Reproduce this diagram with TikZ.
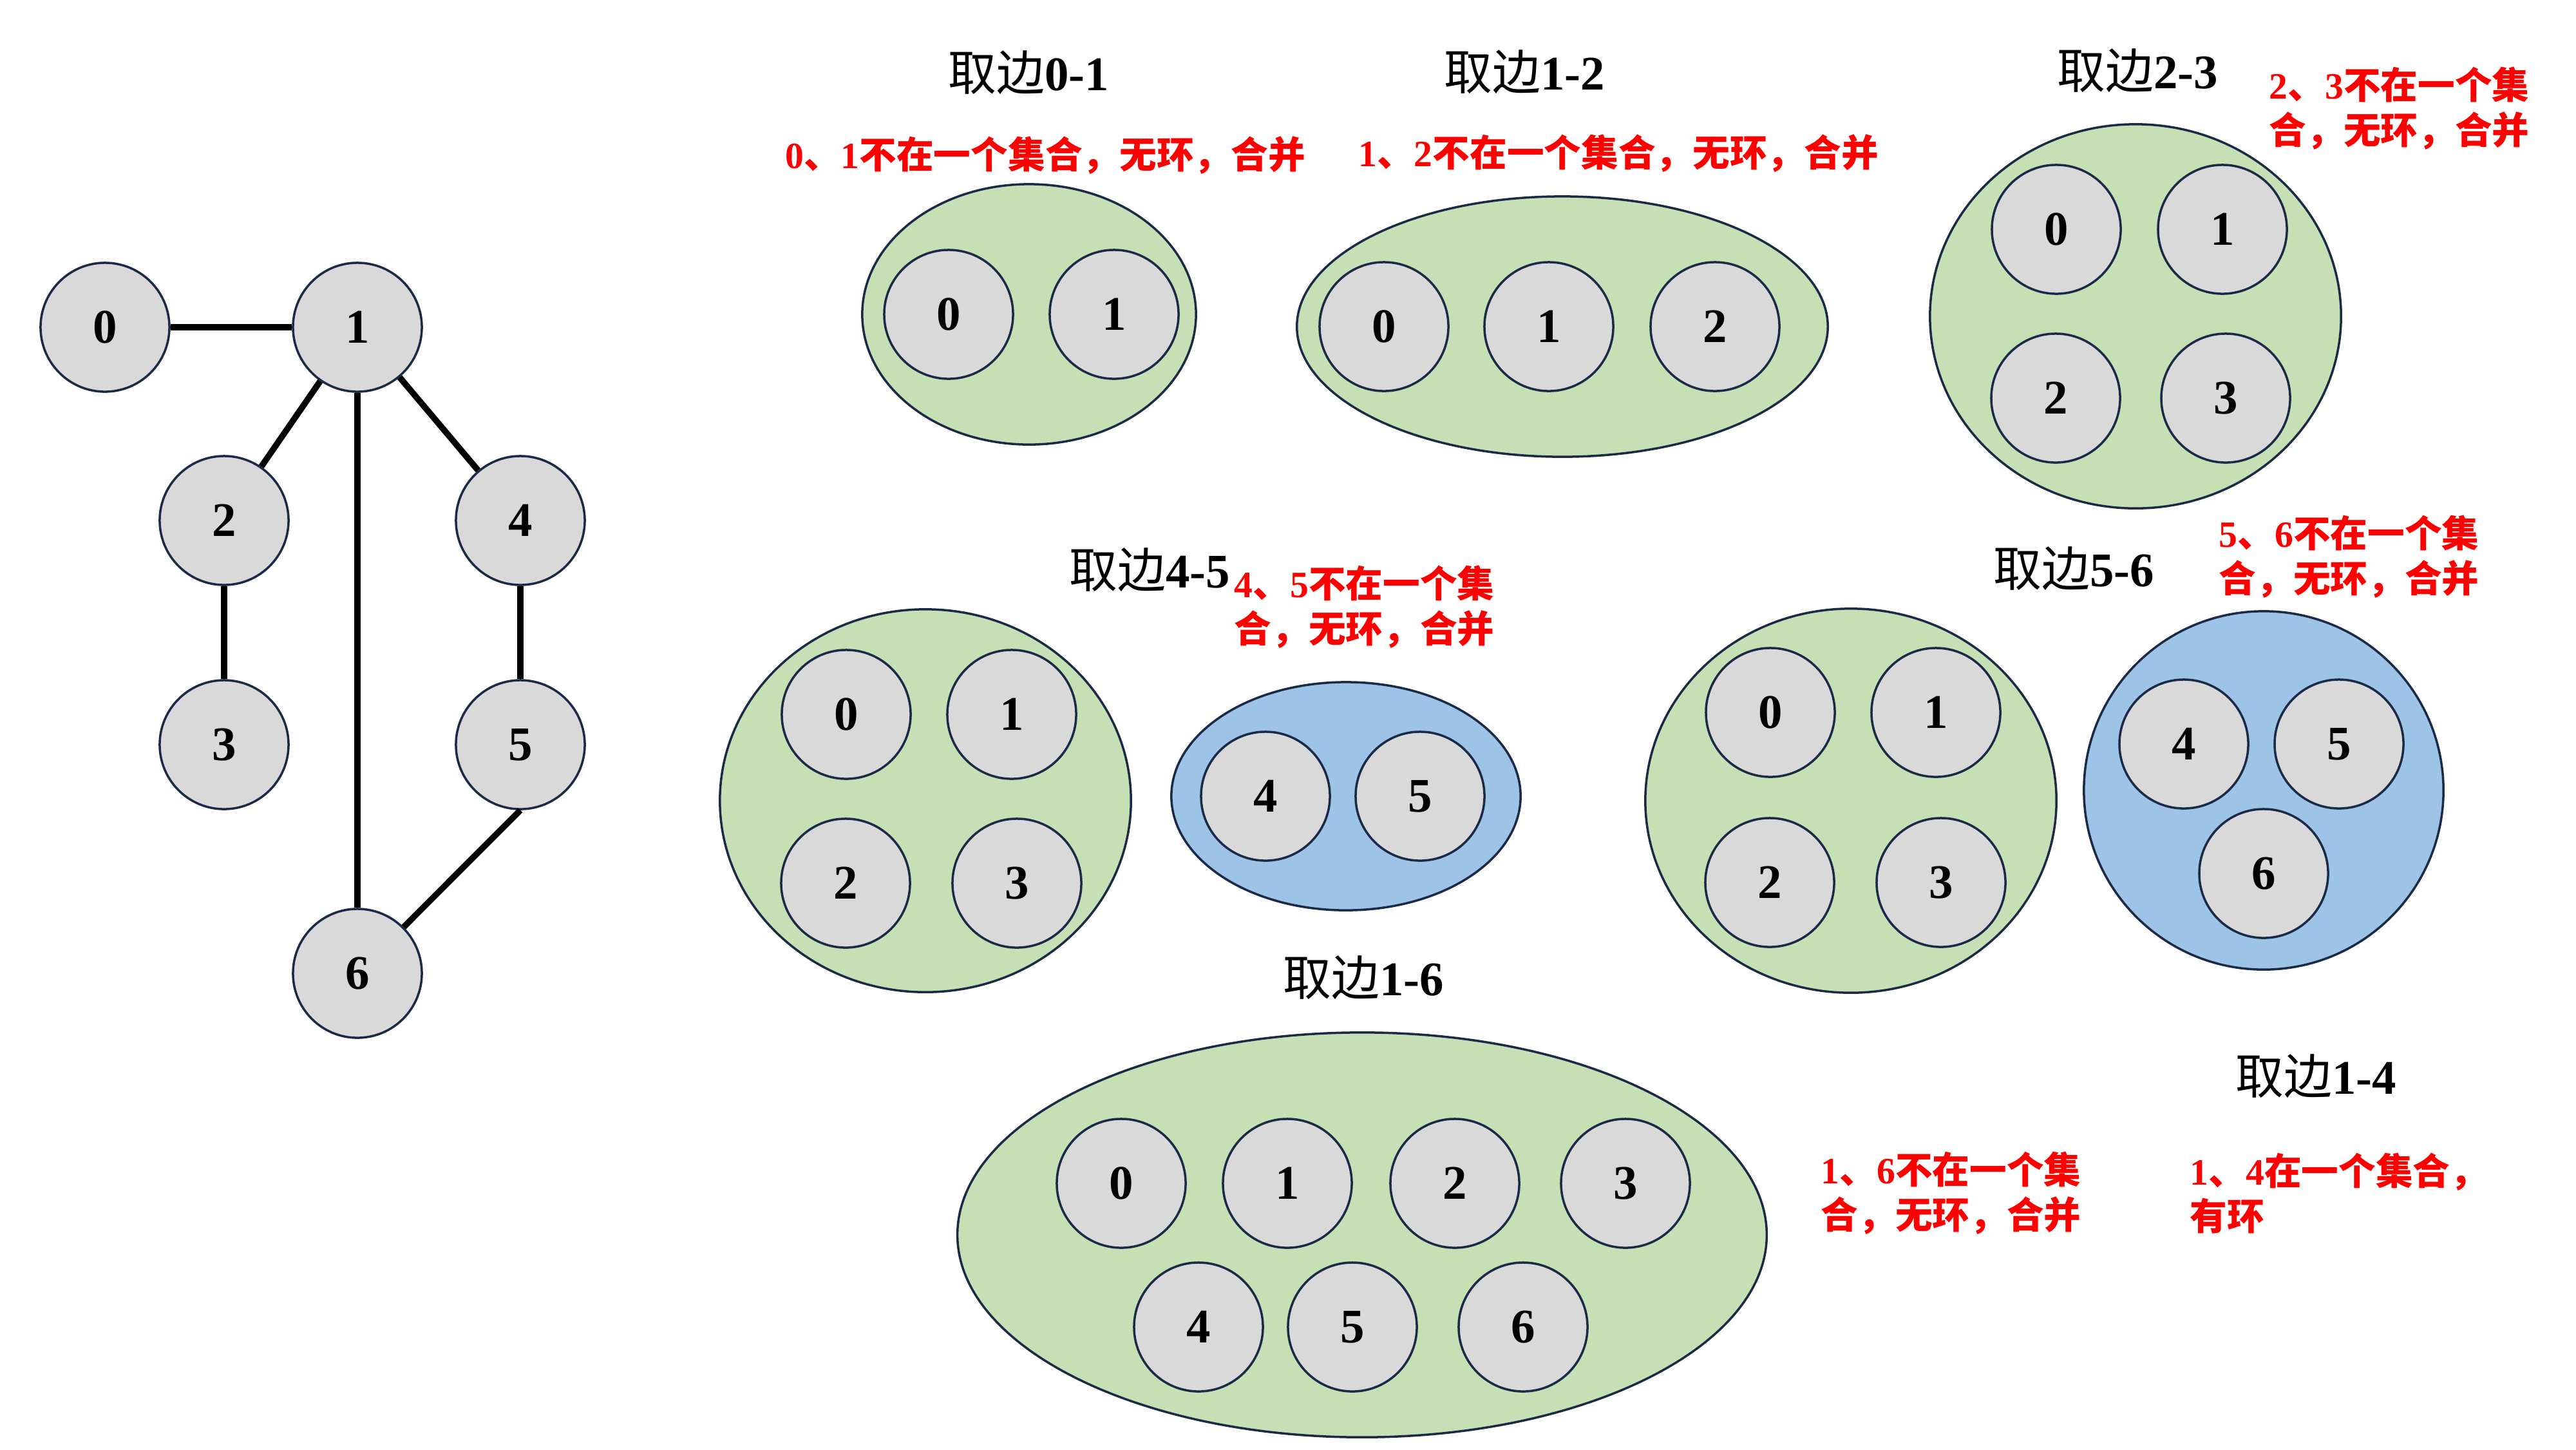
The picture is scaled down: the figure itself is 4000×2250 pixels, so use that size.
\documentclass[tikz,border=0pt]{standalone}
\usepackage{fontspec}
\setmainfont{Liberation Serif}
\newfontfamily\cjk{Noto Sans CJK SC}
\usetikzlibrary{shapes.geometric}
\definecolor{navy}{HTML}{1B2A47}
\definecolor{nodegray}{HTML}{D9D9D9}
\definecolor{setgreen}{HTML}{C5E0B4}
\definecolor{setblue}{HTML}{9DC3E6}
\definecolor{notered}{HTML}{FF0000}
\newcommand{\hz}[1]{{\cjk\mdseries #1}}
\newcommand{\hzb}[1]{{\cjk\bfseries #1}}
\tikzset{
  vtx/.style={circle, draw=navy, line width=0.035cm, fill=nodegray, minimum size=2cm, inner sep=0pt,
    font=\fontsize{21.3}{25}\selectfont\bfseries},
  gset/.style={ellipse, draw=navy, line width=0.035cm, fill=setgreen, inner sep=0pt},
  bset/.style={ellipse, draw=navy, line width=0.035cm, fill=setblue, inner sep=0pt},
  ttl/.style={inner sep=0pt, font=\fontsize{21.3}{25}\selectfont\bfseries},
  note/.style={inner sep=0pt, text=notered, align=left, font=\fontsize{16.4}{19.9}\selectfont\bfseries},
  edge/.style={line width=0.095cm, black}
}
\begin{document}
\begin{tikzpicture}[x=0.01cm, y=-0.01cm]
\fill[white] (0,0) rectangle (4000,2250);
\useasboundingbox (0,0) rectangle (4000,2250);

% ---------- original graph ----------
\node[vtx] (g0) at (163,508) {0};
\node[vtx] (g1) at (555,508) {1};
\node[vtx] (g2) at (348,808) {2};
\node[vtx] (g3) at (348,1156) {3};
\node[vtx] (g4) at (808,808) {4};
\node[vtx] (g5) at (808,1156) {5};
\node[vtx] (g6) at (555,1511) {6};
\draw[edge] (g0) -- (g1);
\draw[edge] (g1) -- (g2);
\draw[edge] (g1) -- (g6);
\draw[edge] (g1) -- (g4);
\draw[edge] (g2) -- (g3);
\draw[edge] (g4) -- (g5);
\draw[edge] (g5.south) -- (g6.45);

% ---------- edge 0-1 ----------
\node[ttl] (t01) at (1597,113) {\hz{取边}0-1};
\node[note] (n01) at (1623,241) {0\hzb{、}1\hzb{不在一个集合，无环，合并}};
\node[gset, minimum width=5.18cm, minimum height=4.04cm] (s01) at (1598,488) {};
\node[vtx] (a0) at (1473,488) {0};
\node[vtx] (a1) at (1730,488) {1};

% ---------- edge 1-2 ----------
\node[ttl] (t12) at (2367,112) {\hz{取边}1-2};
\node[note] (n12) at (2513,238) {1\hzb{、}2\hzb{不在一个集合，无环，合并}};
\node[gset, minimum width=8.24cm, minimum height=4.04cm] (s12) at (2426,507) {};
\node[vtx] (b0) at (2149,507) {0};
\node[vtx] (b1) at (2405,507) {1};
\node[vtx] (b2) at (2663,507) {2};

% ---------- edge 2-3 ----------
\node[ttl] (t23) at (3319,110) {\hz{取边}2-3};
\node[note, anchor=west] (n23) at (3523,168) {2\hzb{、}3\hzb{不在一个集}\\\hzb{合，无环，合并}};
\node[gset, minimum width=6.38cm, minimum height=5.96cm] (s23) at (3316,491) {};
\node[vtx] (c0) at (3193,356) {0};
\node[vtx] (c1) at (3451,356) {1};
\node[vtx] (c2) at (3192,618) {2};
\node[vtx] (c3) at (3456,618) {3};

% ---------- edge 4-5 ----------
\node[ttl] (t45) at (1785,885) {\hz{取边}4-5};
\node[note, anchor=west] (n45) at (1916,942) {4\hzb{、}5\hzb{不在一个集}\\\hzb{合，无环，合并}};
\node[gset, minimum width=6.38cm, minimum height=5.94cm] (s45g) at (1437,1243) {};
\node[vtx] (d0) at (1314,1109) {0};
\node[vtx] (d1) at (1571,1109) {1};
\node[vtx] (d2) at (1313,1371) {2};
\node[vtx] (d3) at (1579,1371) {3};
\node[bset, minimum width=5.42cm, minimum height=3.54cm] (s45b) at (2090,1236) {};
\node[vtx] (d4) at (1965,1236) {4};
\node[vtx] (d5) at (2205,1236) {5};

% ---------- edge 5-6 ----------
\node[ttl] (t56) at (3220,883) {\hz{取边}5-6};
\node[note, anchor=west] (n56) at (3445,864) {5\hzb{、}6\hzb{不在一个集}\\\hzb{合，无环，合并}};
\node[gset, minimum width=6.38cm, minimum height=5.96cm] (s56g) at (2874,1243) {};
\node[vtx] (e0) at (2749,1106) {0};
\node[vtx] (e1) at (3006,1106) {1};
\node[vtx] (e2) at (2748,1370) {2};
\node[vtx] (e3) at (3014,1370) {3};
\node[bset, minimum width=5.58cm, minimum height=5.56cm] (s56b) at (3515,1227) {};
\node[vtx] (e4) at (3391,1155) {4};
\node[vtx] (e5) at (3632,1155) {5};
\node[vtx] (e6) at (3515,1356) {6};

% ---------- edge 1-6 ----------
\node[ttl] (t16) at (2117,1518) {\hz{取边}1-6};
\node[note, anchor=west] (n16) at (2827,1852) {1\hzb{、}6\hzb{不在一个集}\\\hzb{合，无环，合并}};
\node[gset, minimum width=12.56cm, minimum height=6.28cm] (s16) at (2115,1917) {};
\node[vtx] (f0) at (1741,1837) {0};
\node[vtx] (f1) at (1999,1837) {1};
\node[vtx] (f2) at (2259,1837) {2};
\node[vtx] (f3) at (2524,1837) {3};
\node[vtx] (f4) at (1861,2060) {4};
\node[vtx] (f5) at (2100,2060) {5};
\node[vtx] (f6) at (2365,2060) {6};

% ---------- edge 1-4 ----------
\node[ttl] (t14) at (3596,1671) {\hz{取边}1-4};
\node[note, anchor=west] (n14) at (3400,1852) {1\hzb{、}4\hzb{在一个集合，}\\\hzb{有环}};
\end{tikzpicture}
\end{document}
